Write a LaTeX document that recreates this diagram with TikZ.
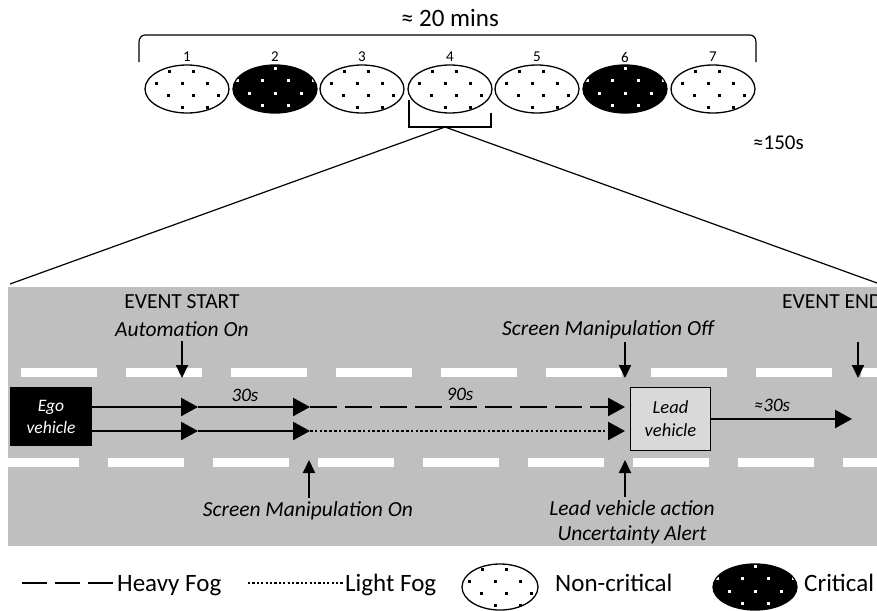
\documentclass[tikz,border=0pt]{standalone}
\usepackage{fontspec}
\setmainfont{Carlito}
\usetikzlibrary{arrows.meta,shapes.geometric}
\definecolor{roadgray}{HTML}{BFBFBF}
\definecolor{leadgray}{HTML}{D9D9D9}

\tikzset{
  txt/.style={inner sep=0pt, font=\fontsize{21.5}{25}\selectfont},
  itxt/.style={inner sep=0pt, font=\fontsize{21.5}{25}\selectfont\itshape},
  secs/.style={inner sep=0pt, font=\fontsize{19}{22}\selectfont\itshape},
  legtxt/.style={inner sep=0pt, anchor=base west, font=\fontsize{25}{29}\selectfont},
  numtxt/.style={inner sep=0pt, font=\fontsize{15}{17}\selectfont},
  segment/.style={ellipse, draw, line width=1.3pt, inner sep=0pt,
    minimum width=84pt, minimum height=48pt},
  calm/.style={segment, fill=white, path picture={
    \foreach \dx/\dy in {-18/-18,6/-18,-31/-6,-5/-6,20/-6,-19/6,6/6,31/6,-5/18,20/18,-43/6,44/-6}
      \fill[black, shift={(path picture bounding box.center)}]
        (\dx-1.5,\dy-1.5) rectangle ++(3,3);}},
  crit/.style={segment, fill=black, path picture={
    \foreach \dx/\dy in {0/-21,-13/-9,13/-9,-38/-9,38/-9,-26/4,0/4,26/4,-13/16,13/16}
      \fill[white, shift={(path picture bounding box.center)}]
        (\dx-1.5,\dy-1.5) rectangle ++(3,3);}},
  flow/.style={line width=2.4pt, -{Triangle[length=17pt,width=18pt]}},
  vflow/.style={line width=2pt, -{Triangle[length=13pt,width=12pt]}},
  egobox/.style={fill=black, text=white, inner sep=0pt, align=center,
    minimum width=82pt, minimum height=59pt,
    font=\fontsize{17.5}{22}\selectfont\itshape},
  leadbox/.style={fill=leadgray, draw=black, line width=1.8pt, inner sep=0pt,
    align=center, minimum width=80pt, minimum height=63pt,
    font=\fontsize{18.5}{23}\selectfont\itshape},
}

\begin{document}
\begin{tikzpicture}[x=1pt, y=-1pt]
\useasboundingbox (0,0) rectangle (877,610);

% ---- overview of the seven segments ----
\node[inner sep=0pt, font=\fontsize{25}{29}\selectfont] (total) at (450,18) {≈ 20 mins};
\draw[line width=1.2pt] (139,62) -- (139,42) to[out=90,in=180] (145,35)
  -- (750,35) to[out=0,in=90] (756,42) -- (756,62);

\foreach \i/\x/\kind in {1/187/calm,2/275/crit,3/362/calm,4/450/calm,5/537/calm,6/625/crit,7/713/calm}{
  \node[\kind] (e\i) at (\x,89) {};
  \node[numtxt] (n\i) at (\x,57) {\i};
}

\node[inner sep=0pt, anchor=west, font=\fontsize{21}{24}\selectfont] (dur) at (753,143) {≈150s};

% bracket under segment 4 and the zoom-in lines
\draw[line width=1.2pt] (409,100) -- (409,127) -- (491,127) -- (491,113);
\coordinate (apex) at (445,127);
\draw[line width=1.2pt] (apex) -- (10,284);
\draw[line width=1.2pt] (apex) -- (877,283);

% ---- road ----
\fill[roadgray] (8,287) rectangle (877,546);
\begin{scope}
  \clip (8,287) rectangle (877,546);
  \foreach \k in {0,...,8}{
    \fill[white] (21+105*\k,368) rectangle ++(76,9);
    \fill[white] (3+105*\k,458) rectangle ++(76,9);
  }
\end{scope}

% vehicles
\node[egobox] (ego) at (51,416.5) {Ego\\vehicle};
\node[leadbox] (lead) at (670.5,419) {Lead\\vehicle};

\coordinate (a1) at (198,407);
\coordinate (a2) at (310,407);
\coordinate (a3) at (625,407);
\coordinate (b1) at (198,431);
\coordinate (b2) at (310,431);
\coordinate (b3) at (625,431);
\coordinate (fin) at (852,419);

\draw[flow] (ego.east |- a1) -- (a1);
\draw[flow] (a1) -- (a2);
\draw[flow, dash pattern=on 27pt off 8pt] (a2) -- (a3);
\draw[flow] (ego.east |- b1) -- (b1);
\draw[flow] (b1) -- (b2);
\draw[flow, dash pattern=on 2.6pt off 2.2pt] (b2) -- (b3);
\draw[flow] (lead.east) -- (fin);

\node[secs] (t30) at (245,395) {30s};
\node[secs] (t90) at (460,394) {90s};
\node[secs] (t30b) at (772,405) {≈30s};

% event markers above the road
\node[txt] (evs) at (182,302) {EVENT START};
\node[itxt] (auto) at (182,329) {Automation On};
\coordinate (m1s) at (182,341);
\coordinate (m1e) at (182,378);
\draw[vflow] (m1s) -- (m1e);

\node[itxt] (smoff) at (608,330) {Screen Manipulation Off};
\coordinate (m2s) at (625,342);
\coordinate (m2e) at (625,378);
\draw[vflow] (m2s) -- (m2e);

\node[txt, anchor=west] (eve) at (782,302) {EVENT END};
\coordinate (m3s) at (858,342);
\coordinate (m3e) at (858,378);
\draw[vflow] (m3s) -- (m3e);

% event markers below the road
\coordinate (m4s) at (309,498);
\coordinate (m4e) at (309,460);
\draw[vflow] (m4s) -- (m4e);
\node[itxt] (smon) at (308,511) {Screen Manipulation On};

\coordinate (m5s) at (625,497);
\coordinate (m5e) at (625,460);
\draw[vflow] (m5s) -- (m5e);
\node[itxt] (lva) at (632,508) {Lead vehicle action};
\node[itxt] (ua) at (632,535) {Uncertainty Alert};

% ---- legend ----
\coordinate (h1) at (22,583);
\coordinate (h2) at (113,583);
\draw[line width=2.4pt, dash pattern=on 25pt off 8pt] (h1) -- (h2);
\node[legtxt] (lh) at (117,591) {Heavy Fog};
\coordinate (l1) at (248,583);
\coordinate (l2) at (343,583);
\draw[line width=2.2pt, dash pattern=on 2.2pt off 2.2pt] (l1) -- (l2);
\node[legtxt] (ll) at (345,591) {Light Fog};
\node[calm, minimum width=76pt, minimum height=46pt] (lc) at (500,587) {};
\node[legtxt] (lnc) at (555,591) {Non-critical};
\node[crit, minimum height=46pt] (lk) at (755,587) {};
\node[legtxt] (lcr) at (804,591) {Critical};
\end{tikzpicture}
\end{document}
